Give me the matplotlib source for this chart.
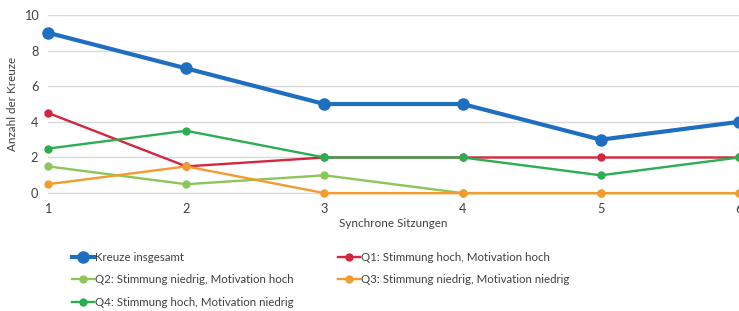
import matplotlib.pyplot as plt

plt.rcParams["font.family"] = ["Lato", "DejaVu Sans"]

sessions = [1, 2, 3, 4, 5, 6]
total = [9, 7, 5, 5, 3, 4]
q1 = [4.5, 1.5, 2, 2, 2, 2]
q2 = [1.5, 0.5, 1, 0, 0, 0]
q3 = [0.5, 1.5, 0, 0, 0, 0]
q4 = [2.5, 3.5, 2, 2, 1, 2]

labels = [
    "Kreuze insgesamt",
    "Q1: Stimmung hoch, Motivation hoch",
    "Q2: Stimmung niedrig, Motivation hoch",
    "Q3: Stimmung niedrig, Motivation niedrig",
    "Q4: Stimmung hoch, Motivation niedrig",
]
colors = ["#1f6fc0", "#d4263f", "#8cc65a", "#f59b2e", "#2bae50"]

fig = plt.figure(figsize=(7.39, 3.11), dpi=100)
ax = fig.add_axes([0.065, 0.379, 0.935, 0.573])

h_total, = ax.plot(sessions, total, color=colors[0], lw=3, marker="o", ms=8, clip_on=False, zorder=5)
h_q1, = ax.plot(sessions, q1, color=colors[1], lw=1.7, marker="o", ms=5, clip_on=False, zorder=3)
h_q2, = ax.plot(sessions, q2, color=colors[2], lw=1.7, marker="o", ms=5, clip_on=False, zorder=2)
h_q3, = ax.plot(sessions, q3, color=colors[3], lw=1.7, marker="o", ms=5, clip_on=False, zorder=3)
h_q4, = ax.plot(sessions, q4, color=colors[4], lw=1.7, marker="o", ms=5, clip_on=False, zorder=4)

ax.set_xlim(1, 6)
ax.set_ylim(0, 10)
ax.set_yticks(range(0, 11, 2))
ax.set_xticks(sessions)
ax.grid(axis="y", color="#d9d9d9", lw=1)
ax.set_axisbelow(True)
for s in ["top", "right", "left"]:
    ax.spines[s].set_visible(False)
ax.spines["bottom"].set_color("#d9d9d9")
ax.tick_params(axis="x", length=0, labelsize=9.2, colors="#404040", pad=7)
ax.tick_params(axis="y", length=0, labelsize=9.2, colors="#404040", pad=7)
ax.set_xlabel("Synchrone Sitzungen", fontsize=8.4, color="#404040", labelpad=2)
ax.set_ylabel("Anzahl der Kreuze", fontsize=8.4, color="#404040", labelpad=4)

handles = [h_total, h_q2, h_q4, h_q1, h_q3]
leg_labels = [labels[0], labels[2], labels[4], labels[1], labels[3]]
fig.legend(handles, leg_labels, ncol=2, loc="upper left", bbox_to_anchor=(0.097, 0.19),
           frameon=False, fontsize=8.3, handlelength=1.9, handletextpad=0.1,
           columnspacing=3.9, labelspacing=1.0, labelcolor="#404040",
           borderaxespad=0, borderpad=0)

fig.savefig("out.png", dpi=100)
